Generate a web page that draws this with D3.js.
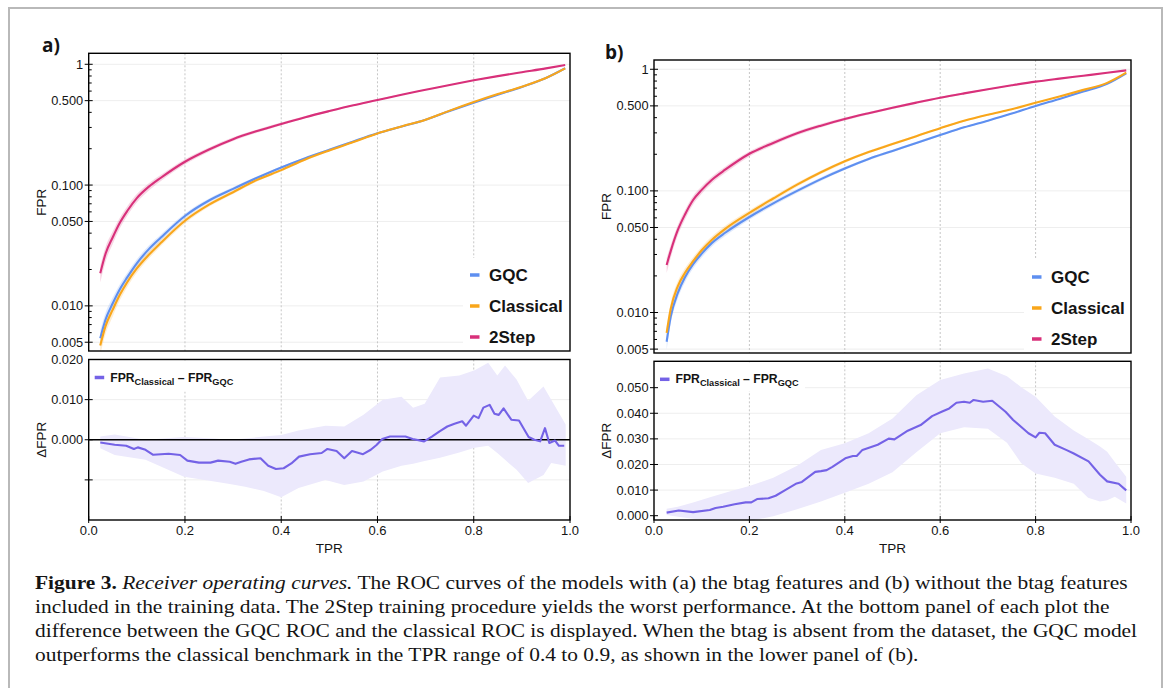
<!DOCTYPE html>
<html><head><meta charset="utf-8">
<script src="https://cdn.jsdelivr.net/npm/d3@7"></script>
<style>
body{margin:0;background:#fff;}
svg{display:block;}
text{font-family:"Liberation Sans",Arial,sans-serif;fill:#141414;}
</style>
</head><body>
<svg id="c" width="1171" height="688"></svg>
<script>
// ---------------- DATA ----------------
const seriesNames = ["GQC", "Classical", "2Step"];

// Panel (a): with btag
const tprA = [0.024, 0.035, 0.05, 0.065, 0.08, 0.1, 0.125, 0.15, 0.2, 0.25, 0.3, 0.35, 0.4, 0.45, 0.5, 0.55, 0.6, 0.65, 0.7, 0.75, 0.8, 0.85, 0.9, 0.95, 0.99];
const gqcA = [0.0054, 0.0077, 0.0105, 0.0138, 0.0172, 0.0225, 0.0295, 0.0368, 0.0555, 0.0745, 0.093, 0.115, 0.14, 0.167, 0.196, 0.23, 0.268, 0.305, 0.348, 0.41, 0.481, 0.56, 0.65, 0.77, 0.927];
const classicalA = [0.0047, 0.0068, 0.0093, 0.0124, 0.0157, 0.0204, 0.0265, 0.0333, 0.0507, 0.0688, 0.0873, 0.1104, 0.133, 0.163, 0.1935, 0.227, 0.2677, 0.3058, 0.3476, 0.4135, 0.487, 0.5665, 0.653, 0.771, 0.9255];
const twoStepA = [0.0186, 0.027, 0.037, 0.049, 0.061, 0.078, 0.097, 0.115, 0.156, 0.197, 0.240, 0.280, 0.321, 0.365, 0.41, 0.458, 0.506, 0.56, 0.615, 0.675, 0.737, 0.798, 0.86, 0.925, 0.987];
const relErrA = [0.16, 0.14, 0.12, 0.1, 0.09, 0.08, 0.07, 0.06, 0.05, 0.04, 0.035, 0.03, 0.025, 0.02, 0.018, 0.015, 0.013, 0.012, 0.01, 0.01, 0.01, 0.01, 0.01, 0.01, 0.01];

const dTprA = [0.024, 0.054, 0.078, 0.094, 0.102, 0.118, 0.134, 0.166, 0.19, 0.205, 0.229, 0.253, 0.269, 0.293, 0.305, 0.317, 0.333, 0.357, 0.373, 0.389, 0.405, 0.421, 0.437, 0.46, 0.484, 0.496, 0.515, 0.531, 0.547, 0.57, 0.586, 0.598, 0.61, 0.626, 0.642, 0.658, 0.673, 0.697, 0.713, 0.729, 0.745, 0.76, 0.776, 0.784, 0.8, 0.81, 0.82, 0.833, 0.843, 0.852, 0.862, 0.878, 0.894, 0.914, 0.926, 0.938, 0.948, 0.957, 0.969, 0.977, 0.988];
const dValA = [-0.0007, -0.00125, -0.0015, -0.0023, -0.0019, -0.0025, -0.00375, -0.0035, -0.0038, -0.0052, -0.0057, -0.0057, -0.0052, -0.0055, -0.006, -0.0055, -0.0049, -0.0046, -0.0065, -0.0073, -0.0071, -0.0059, -0.0042, -0.0036, -0.0033, -0.0023, -0.0028, -0.0046, -0.0028, -0.0036, -0.0025, -0.0013, 0.0002, 0.0008, 0.0008, 0.0008, 0.0002, -0.0004, 0.0008, 0.0021, 0.0033, 0.004, 0.0046, 0.0035, 0.006, 0.0054, 0.008, 0.0087, 0.0065, 0.0062, 0.0078, 0.005, 0.0048, 0.0007, 0.0, -0.0004, 0.0029, -0.0008, -0.0002, -0.0015, -0.0015];
const bandTprA = [0.024, 0.054, 0.118, 0.198, 0.261, 0.293, 0.325, 0.364, 0.400, 0.436, 0.492, 0.531, 0.571, 0.611, 0.650, 0.674, 0.698, 0.730, 0.770, 0.802, 0.830, 0.849, 0.865, 0.889, 0.913, 0.945, 0.961, 0.991];
const bandHiA = [0.0008, 0.0013, 0.0, 0.0007, 0.0003, 0.0, 0.0003, 0.0008, 0.0012, 0.0023, 0.0035, 0.0033, 0.0062, 0.010, 0.0107, 0.008, 0.009, 0.0155, 0.016, 0.0173, 0.0192, 0.016, 0.0185, 0.015, 0.0097, 0.0133, 0.010, 0.0038];
const bandLoA = [-0.0021, -0.0038, -0.005, -0.0092, -0.0104, -0.011, -0.0117, -0.0128, -0.0143, -0.012, -0.010, -0.0113, -0.0104, -0.0079, -0.0065, -0.006, -0.0053, -0.0045, -0.0032, -0.002, -0.0015, -0.0033, -0.005, -0.0075, -0.0108, -0.0088, -0.0058, -0.0065];

// Panel (b): without btag
const tprB = [0.0265, 0.035, 0.05, 0.065, 0.082, 0.1, 0.121, 0.15, 0.2, 0.25, 0.3, 0.35, 0.4, 0.45, 0.5, 0.55, 0.6, 0.65, 0.7, 0.75, 0.8, 0.85, 0.9, 0.95, 0.99];
const gqcB = [0.00575, 0.0092, 0.0145, 0.0195, 0.025, 0.0305, 0.0372, 0.0455, 0.061, 0.079, 0.1, 0.125, 0.153, 0.183, 0.213, 0.248, 0.288, 0.333, 0.378, 0.432, 0.499, 0.57, 0.655, 0.76, 0.927];
const classicalB = [0.0068, 0.0107, 0.0165, 0.0212, 0.0264, 0.0325, 0.0395, 0.049, 0.066, 0.0866, 0.1126, 0.1424, 0.1752, 0.209, 0.243, 0.282, 0.328, 0.377, 0.423, 0.469, 0.530, 0.597, 0.677, 0.773, 0.937];
const twoStepB = [0.0246, 0.032, 0.0477, 0.064, 0.0842, 0.102, 0.123, 0.150, 0.202, 0.248, 0.298, 0.344, 0.390, 0.435, 0.482, 0.532, 0.584, 0.634, 0.685, 0.738, 0.791, 0.838, 0.885, 0.935, 0.98];
const relErrB = [0.14, 0.12, 0.1, 0.09, 0.08, 0.07, 0.065, 0.06, 0.05, 0.045, 0.04, 0.035, 0.03, 0.025, 0.022, 0.02, 0.018, 0.016, 0.014, 0.012, 0.011, 0.01, 0.01, 0.01, 0.01];

const dTprB = [0.0265, 0.052, 0.082, 0.117, 0.129, 0.145, 0.169, 0.192, 0.204, 0.216, 0.24, 0.255, 0.275, 0.299, 0.31, 0.338, 0.35, 0.362, 0.374, 0.401, 0.417, 0.425, 0.437, 0.469, 0.492, 0.504, 0.532, 0.559, 0.583, 0.603, 0.619, 0.634, 0.65, 0.662, 0.67, 0.69, 0.709, 0.737, 0.753, 0.785, 0.8, 0.808, 0.82, 0.84, 0.864, 0.879, 0.911, 0.935, 0.95, 0.974, 0.99];
const dValB = [0.0012, 0.002, 0.0014, 0.0022, 0.003, 0.0035, 0.0045, 0.0052, 0.0052, 0.0065, 0.0068, 0.0078, 0.010, 0.0126, 0.0132, 0.0171, 0.0174, 0.0178, 0.0191, 0.0224, 0.0233, 0.0233, 0.0257, 0.0277, 0.0301, 0.0298, 0.0332, 0.0354, 0.0389, 0.0406, 0.0419, 0.0441, 0.0445, 0.0441, 0.0452, 0.0445, 0.0449, 0.0406, 0.0374, 0.0322, 0.0306, 0.0324, 0.0322, 0.0277, 0.0257, 0.0244, 0.0212, 0.016, 0.0134, 0.0125, 0.0099];
const bandTprB = [0.0265, 0.05, 0.082, 0.121, 0.16, 0.2, 0.25, 0.3, 0.35, 0.4, 0.45, 0.5, 0.55, 0.6, 0.65, 0.7, 0.74, 0.77, 0.8, 0.84, 0.88, 0.91, 0.935, 0.95, 0.966, 0.99];
const bandHiB = [0.0027, 0.0035, 0.0052, 0.0074, 0.0095, 0.0116, 0.0148, 0.0195, 0.0257, 0.0283, 0.0322, 0.038, 0.047, 0.053, 0.0555, 0.0575, 0.0545, 0.0502, 0.0465, 0.0387, 0.0333, 0.030, 0.027, 0.025, 0.021, 0.0152];
const bandLoB = [0.0003, -0.0004, -0.0012, -0.0018, -0.002, -0.002, -0.0002, 0.0025, 0.0055, 0.009, 0.0125, 0.017, 0.0248, 0.0322, 0.0345, 0.034, 0.0285, 0.0205, 0.0165, 0.0148, 0.0125, 0.007, 0.0055, 0.006, 0.0074, 0.0048];

// Tick labels
const xTicks = [0, 0.2, 0.4, 0.6, 0.8, 1.0];
const xTickLabels = ["0.0", "0.2", "0.4", "0.6", "0.8", "1.0"];
const logTicks = [0.005, 0.01, 0.05, 0.1, 0.5, 1];
const logTickLabels = ["0.005", "0.010", "0.050", "0.100", "0.500", "1"];
const dTicksA = [0, 0.01, 0.02];
const dTickLabelsA = ["0.000", "0.010", "0.020"];
const dTicksB = [0, 0.01, 0.02, 0.03, 0.04, 0.05];
const dTickLabelsB = ["0.000", "0.010", "0.020", "0.030", "0.040", "0.050"];

const captionLines = [
  [["b", "Figure 3."], ["n", " "], ["i", "Receiver operating curves."], ["n", " The ROC curves of the models with (a) the btag features and (b) without the btag features"]],
  [["n", "included in the training data. The 2Step training procedure yields the worst performance. At the bottom panel of each plot the"]],
  [["n", "difference between the GQC ROC and the classical ROC is displayed. When the btag is absent from the dataset, the GQC model"]],
  [["n", "outperforms the classical benchmark in the TPR range of 0.4 to 0.9, as shown in the lower panel of (b)."]]
];

// ---------------- STYLE ----------------
const colors = {GQC: "#5e8ff0", Classical: "#f9a61a", "2Step": "#d8307a"};
const deltaColor = "#7462e6";
const bandColor = "#ece9fc";
const tickFont = 12.8;

const svg = d3.select("#c");
svg.append("rect").attr("x", 9).attr("y", 8).attr("width", 1153).attr("height", 720)
  .attr("fill", "none").attr("stroke", "#b9b9b9").attr("stroke-width", 2);

let clipId = 0;
function clip(x0, y0, x1, y1) {
  const id = "clip" + (clipId++);
  svg.append("clipPath").attr("id", id).append("rect")
    .attr("x", x0).attr("y", y0).attr("width", x1 - x0).attr("height", y1 - y0);
  return "url(#" + id + ")";
}

function drawPanel(o) {
  const x = d3.scaleLinear().domain([0, 1]).range([o.x0, o.x1]);
  const yT = d3.scaleLog().domain(o.topDomain).range([o.tY1, o.tY0]);
  const yB = d3.scaleLinear().domain(o.botDomain).range([o.bY1, o.bY0]);
  const g = svg.append("g");

  g.append("text").attr("x", o.labelX).attr("y", o.labelY).text(o.label)
    .style("font-family", "'Open Sans','Liberation Sans',sans-serif")
    .attr("font-weight", "bold").attr("font-size", 19);

  // ---- TOP PLOT ----
  logTicks.forEach(v => {
    g.append("line").attr("x1", o.x0).attr("x2", o.x1).attr("y1", yT(v)).attr("y2", yT(v))
      .attr("stroke", "#eeeeee").attr("stroke-width", 1);
  });
  [0.2, 0.4, 0.6, 0.8].forEach(v => {
    g.append("line").attr("x1", x(v)).attr("x2", x(v)).attr("y1", o.tY0).attr("y2", o.tY1)
      .attr("stroke", "#c6c6c6").attr("stroke-width", 1).attr("stroke-dasharray", "2,2");
  });
  g.append("rect").attr("x", o.legX).attr("y", o.legY).attr("width", o.x1 - o.legX).attr("height", o.tY1 - o.legY)
    .attr("fill", "#fff");

  const cTop = clip(o.x0, o.tY0, o.x1, o.tY1);
  const gc = g.append("g").attr("clip-path", cTop);
  const series = [["GQC", o.gqc], ["Classical", o.classical], ["2Step", o.twoStep]];
  const area = d3.area().x(d => x(d[0])).y0(d => yT(d[1] * (1 - d[2]))).y1(d => yT(d[1] * (1 + d[2])))
    .curve(d3.curveMonotoneX);
  const line = d3.line().x(d => x(d[0])).y(d => yT(d[1])).curve(d3.curveMonotoneX);
  series.forEach(([name, vals]) => {
    const pts = o.tpr.map((t, i) => [t, vals[i], o.relErr[i]]);
    gc.append("path").attr("d", area(pts)).attr("fill", colors[name]).attr("fill-opacity", 0.2);
  });
  ["2Step", "GQC", "Classical"].forEach(name => {
    const vals = series.find(s => s[0] === name)[1];
    const pts = o.tpr.map((t, i) => [t, vals[i]]);
    gc.append("path").attr("d", line(pts)).attr("fill", "none").attr("stroke", colors[name])
      .attr("stroke-width", 2.1);
  });

  g.append("rect").attr("x", o.x0).attr("y", o.tY0).attr("width", o.x1 - o.x0).attr("height", o.tY1 - o.tY0)
    .attr("fill", "none").attr("stroke", "#000").attr("stroke-width", 1.4);
  const dom = yT.domain();
  for (let e = -3; e <= 0; e++) {
    for (let k = 1; k <= 9; k++) {
      const v = k * Math.pow(10, e);
      if (v < dom[0] || v > dom[1]) continue;
      const major = logTicks.some(t => Math.abs(t - v) / v < 1e-6);
      g.append("line").attr("x1", o.x0 - (major ? 4 : 0)).attr("x2", o.x0 + (major ? 4 : 3))
        .attr("y1", yT(v)).attr("y2", yT(v)).attr("stroke", "#000").attr("stroke-width", 1);
    }
  }
  logTicks.forEach((v, i) => {
    g.append("text").attr("x", o.x0 - 5.5).attr("y", yT(v)).attr("dy", "0.35em")
      .attr("text-anchor", "end").attr("font-size", tickFont).text(logTickLabels[i]);
  });
  g.append("text").attr("transform", `translate(${o.yLabelX},${(o.tY0 + o.tY1) / 2}) rotate(-90)`)
    .attr("text-anchor", "middle").attr("dy", "0.35em").attr("font-size", 13.5).text("FPR");

  seriesNames.forEach((name, i) => {
    const ly = o.legItemY[i];
    g.append("line").attr("x1", o.legSwX).attr("x2", o.legSwX + 9.5).attr("y1", ly).attr("y2", ly)
      .attr("stroke", colors[name]).attr("stroke-width", 3.5);
    g.append("text").attr("x", o.legSwX + 19).attr("y", ly).attr("dy", "0.36em")
      .attr("font-size", 17).attr("font-weight", "bold").text(name);
  });

  // ---- BOTTOM PLOT ----
  o.dGrid.forEach(v => {
    g.append("line").attr("x1", o.x0).attr("x2", o.x1).attr("y1", yB(v)).attr("y2", yB(v))
      .attr("stroke", "#eeeeee").attr("stroke-width", 1);
  });
  [0.2, 0.4, 0.6, 0.8].forEach(v => {
    g.append("line").attr("x1", x(v)).attr("x2", x(v)).attr("y1", o.bY0).attr("y2", o.bY1)
      .attr("stroke", "#c6c6c6").attr("stroke-width", 1).attr("stroke-dasharray", "2,2");
  });
  const cBot = clip(o.x0, o.bY0, o.x1, o.bY1);
  const gb = g.append("g").attr("clip-path", cBot);
  const bandPts = o.bandTpr.map((t, i) => [t, o.bandLo[i], o.bandHi[i]]);
  gb.append("path").attr("d", d3.area().x(d => x(d[0])).y0(d => yB(d[1])).y1(d => yB(d[2]))(bandPts))
    .attr("fill", bandColor);
  if (o.zeroLine) {
    gb.append("line").attr("x1", o.x0).attr("x2", o.x1).attr("y1", yB(0)).attr("y2", yB(0))
      .attr("stroke", "#000").attr("stroke-width", 1.3);
  }
  const dPts = o.dTpr.map((t, i) => [t, o.dVal[i]]);
  gb.append("path").attr("d", d3.line().x(d => x(d[0])).y(d => yB(d[1]))(dPts))
    .attr("fill", "none").attr("stroke", deltaColor).attr("stroke-width", 2.1).attr("stroke-linejoin", "round");

  g.append("rect").attr("x", o.x0 + 1).attr("y", o.bY0 + 1).attr("width", o.dLegW).attr("height", o.dLegH).attr("fill", "#fff");
  const ly = o.bY0 + 18;
  g.append("line").attr("x1", o.x0 + 6).attr("x2", o.x0 + 15.5).attr("y1", ly).attr("y2", ly)
    .attr("stroke", deltaColor).attr("stroke-width", 3.5);
  const lt = g.append("text").attr("x", o.x0 + 21.5).attr("y", ly + 4).attr("font-weight", "bold").attr("font-size", 12.2);
  lt.append("tspan").text("FPR");
  lt.append("tspan").attr("font-size", 9.2).attr("dy", 3).text("Classical");
  lt.append("tspan").attr("dy", -3).text(" \u2013 FPR");
  lt.append("tspan").attr("font-size", 9.2).attr("dy", 3).text("GQC");

  g.append("rect").attr("x", o.x0).attr("y", o.bY0).attr("width", o.x1 - o.x0).attr("height", o.bY1 - o.bY0)
    .attr("fill", "none").attr("stroke", "#000").attr("stroke-width", 1.4);

  o.dMajor.forEach(v => {
    g.append("line").attr("x1", o.x0 - 4).attr("x2", o.x0 + 4).attr("y1", yB(v)).attr("y2", yB(v))
      .attr("stroke", "#000").attr("stroke-width", 1);
  });
  o.dTicks.forEach((v, i) => {
    g.append("text").attr("x", o.x0 - 5.5).attr("y", yB(v)).attr("dy", "0.35em")
      .attr("text-anchor", "end").attr("font-size", tickFont).text(o.dTickLabels[i]);
  });
  xTicks.forEach((v, i) => {
    g.append("line").attr("x1", x(v)).attr("x2", x(v)).attr("y1", o.bY1 + 3).attr("y2", o.bY1 - 4)
      .attr("stroke", "#000").attr("stroke-width", 1);
    g.append("text").attr("x", x(v)).attr("y", o.bY1 + 15).attr("text-anchor", "middle")
      .attr("font-size", 13).text(xTickLabels[i]);
  });
  g.append("text").attr("x", (o.x0 + o.x1) / 2).attr("y", o.bY1 + 33).attr("text-anchor", "middle")
    .attr("font-size", 13.5).text("TPR");
  g.append("text").attr("transform", `translate(${o.yLabelX},${(o.bY0 + o.bY1) / 2}) rotate(-90)`)
    .attr("text-anchor", "middle").attr("dy", "0.35em").attr("font-size", 13.5).text("\u0394FPR");
}

drawPanel({
  label: "a)", labelX: 42, labelY: 52,
  x0: 88.7, x1: 570, tY0: 53.3, tY1: 351, bY0: 359.5, bY1: 520,
  topDomain: [0.00423, 1.233], botDomain: [-0.02, 0.02],
  yLabelX: 41,
  tpr: tprA, gqc: gqcA, classical: classicalA, twoStep: twoStepA, relErr: relErrA,
  legX: 463, legY: 258, legSwX: 470, legItemY: [275, 306, 337],
  dGrid: [-0.01, 0.01], dMajor: [-0.01, 0, 0.01], dTicks: dTicksA, dTickLabels: dTickLabelsA,
  dTpr: dTprA, dVal: dValA, bandTpr: bandTprA, bandLo: bandLoA, bandHi: bandHiA, zeroLine: true,
  dLegW: 150, dLegH: 31
});

drawPanel({
  label: "b)", labelX: 605, labelY: 59,
  x0: 654, x1: 1131, tY0: 60, tY1: 353, bY0: 361.3, bY1: 520,
  topDomain: [0.004645, 1.192], botDomain: [-0.00168, 0.0603],
  yLabelX: 606,
  tpr: tprB, gqc: gqcB, classical: classicalB, twoStep: twoStepB, relErr: relErrB,
  legX: 1024, legY: 260, legSwX: 1032, legItemY: [277, 308, 339],
  dGrid: [0.01, 0.02, 0.03, 0.04, 0.05], dMajor: [0, 0.01, 0.02, 0.03, 0.04, 0.05], dTicks: dTicksB, dTickLabels: dTickLabelsB,
  dTpr: dTprB, dVal: dValB, bandTpr: bandTprB, bandLo: bandLoB, bandHi: bandHiB, zeroLine: false,
  dLegW: 150, dLegH: 29
});

// ---------------- CAPTION ----------------
const capG = svg.append("g");
const capX = 35, capY0 = 589, capDy = 24, capTarget = 1093;
const capTexts = captionLines.map((parts) => {
  const t = capG.append("text").attr("x", 0).attr("y", 0)
    .style("font-family", "'Liberation Serif','Times New Roman',serif").attr("font-size", 18.5);
  parts.forEach(([s, str]) => {
    const ts = t.append("tspan").text(str).style("font-family", "'Liberation Serif','Times New Roman',serif");
    if (s === "b") ts.attr("font-weight", "bold");
    if (s === "i") ts.attr("font-style", "italic");
  });
  return t;
});
const w0 = capTexts[0].node().getComputedTextLength();
const sx = capTarget / w0;
capTexts.forEach((t, li) => {
  t.attr("transform", `translate(${capX},${capY0 + li * capDy}) scale(${sx},1)`).attr("xml:space", "preserve");
});
</script>
</body></html>
